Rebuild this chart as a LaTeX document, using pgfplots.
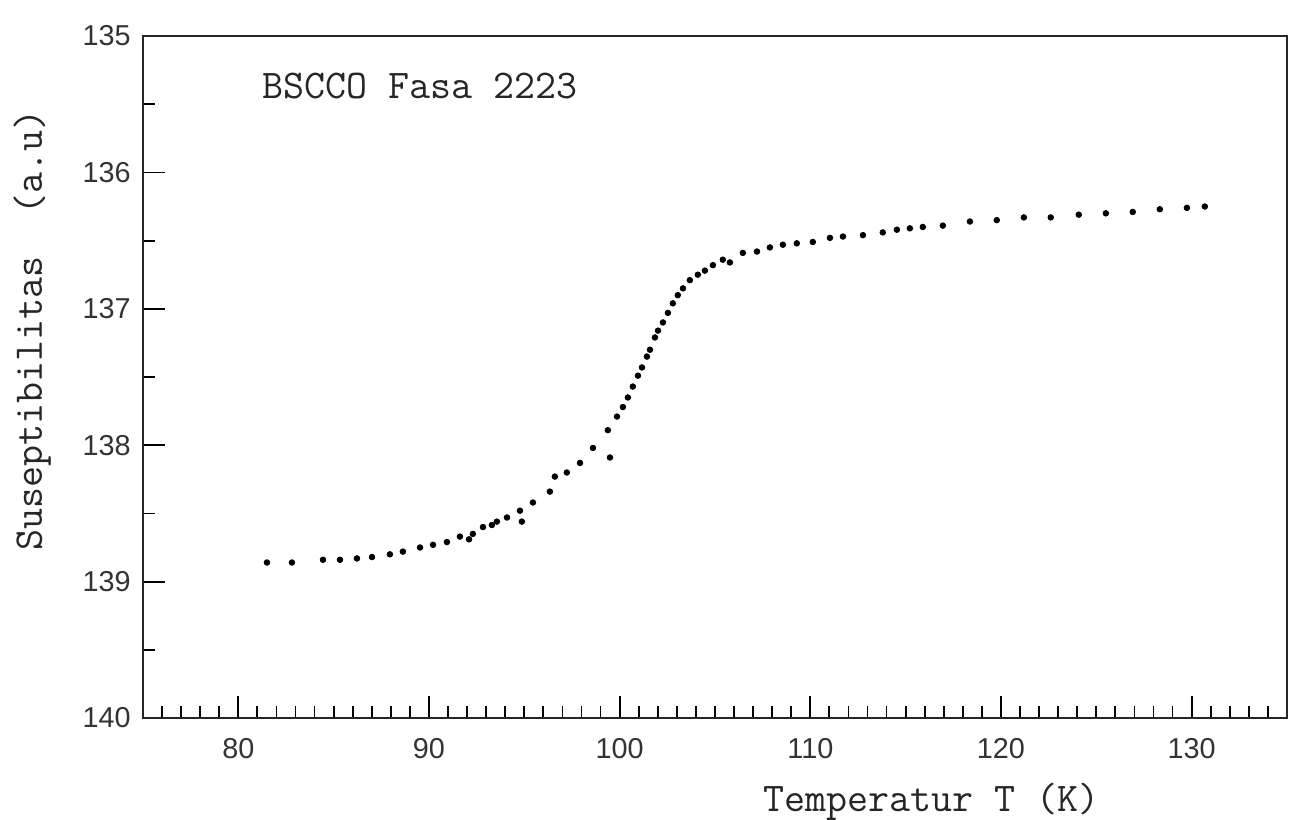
\documentclass[border=0pt]{standalone}
\usepackage{fontspec}
\setmainfont{Liberation Sans}
\usepackage{pgfplots}
\pgfplotsset{compat=1.18}
\newcommand\lab{\ttfamily\fontsize{20.4}{24}\selectfont}
\pgfplotstableread{
x y
81.50 138.86
82.81 138.86
84.44 138.84
85.33 138.84
86.22 138.83
87.01 138.82
87.95 138.80
88.63 138.78
89.53 138.75
90.21 138.73
90.94 138.71
91.62 138.67
92.10 138.69
92.30 138.65
92.83 138.60
93.30 138.585
93.56 138.56
94.09 138.53
94.77 138.48
94.87 138.56
95.45 138.42
96.34 138.34
96.60 138.23
97.23 138.20
97.92 138.13
98.60 138.02
99.49 138.09
99.38 137.89
99.86 137.79
100.17 137.72
100.43 137.65
100.69 137.57
100.96 137.49
101.17 137.43
101.43 137.35
101.59 137.30
101.85 137.21
102.01 137.16
102.27 137.10
102.53 137.03
102.79 136.96
103.05 136.90
103.32 136.85
103.68 136.79
104.10 136.75
104.47 136.72
104.89 136.68
105.41 136.64
105.78 136.66
106.46 136.59
107.20 136.58
107.88 136.55
108.56 136.53
109.29 136.52
110.13 136.51
111.03 136.48
111.71 136.47
112.76 136.46
113.80 136.44
114.54 136.42
115.22 136.41
115.90 136.40
116.95 136.39
118.37 136.36
119.78 136.35
121.20 136.33
122.61 136.33
124.08 136.31
125.50 136.30
126.91 136.29
128.33 136.27
129.75 136.26
130.69 136.25
}\datatable
\begin{document}
\begin{tikzpicture}
\useasboundingbox (-71.5pt,-51pt) rectangle (582.5pt,359pt);
\begin{axis}[
  at={(0,0)}, anchor=south west,
  scale only axis, width=572pt, height=341pt,
  xmin=75, xmax=135, ymin=135, ymax=140, y dir=reverse,
  xtick={80,90,...,130}, minor xtick={76,...,134},
  ytick={135,...,140}, minor ytick={135.5,136.5,137.5,138.5,139.5},
  tick pos=left, tick align=inside,
  major tick length=11pt, minor tick length=6pt,
  every tick/.style={black, line width=0.9pt},
  axis line style={line width=1.2pt, black!85},
  tick label style={font=\fontsize{14.4}{16}\selectfont, text=black!80},
  /pgf/number format/assume math mode=true,
  xticklabel style={anchor=north, inner sep=0pt, yshift=-10pt},
  yticklabel style={anchor=east, inner sep=0pt, xshift=-6pt},
  clip=false
]
\addplot[only marks, mark=*, mark size=1.4pt, black] table[x=x,y=y] {\datatable};
\node[font=\lab, anchor=base, text=black!85] at (axis description cs:0.242,0.909) {BSCCO Fasa 2223};
\node[font=\lab, anchor=base, text=black!85] at (axis description cs:0.689,-0.1378) {Temperatur T (K)};
\node[font=\lab, anchor=base, rotate=90, text=black!85] at (axis description cs:-0.0883,0.569) {Suseptibilitas\ \ (a.u)};
\end{axis}
\end{tikzpicture}
\end{document}
